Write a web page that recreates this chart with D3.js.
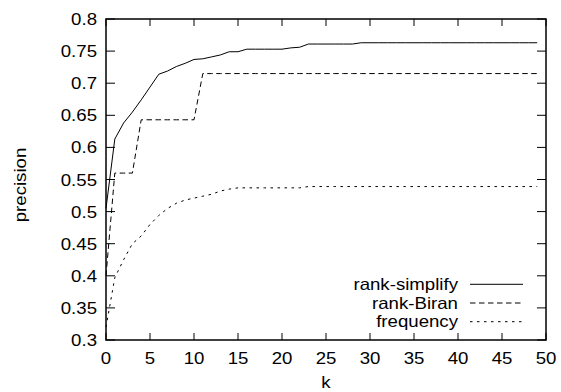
<!DOCTYPE html>
<html>
<head>
<meta charset="utf-8">
<script src="https://cdn.jsdelivr.net/npm/d3@7"></script>
<style>
  body { margin: 0; background: #fff; }
  text { font-family: "Liberation Sans", Arial, sans-serif; font-size: 16.5px; fill: #000; }
</style>
</head>
<body>
<div id="chart"></div>
<script>
// k = 0 .. 49
const kValues = d3.range(0, 50);

const rankSimplify = [
    0.505, 0.613, 0.638, 0.655, 0.674, 0.694, 0.714, 0.719, 0.726, 0.731,
    0.737, 0.738, 0.741, 0.744, 0.749, 0.749, 0.753, 0.753, 0.753, 0.753,
    0.753, 0.755, 0.756, 0.761, 0.761, 0.761, 0.761, 0.761, 0.761, 0.763,
    0.763, 0.763, 0.763, 0.763, 0.763, 0.763, 0.763, 0.763, 0.763, 0.763,
    0.763, 0.763, 0.763, 0.763, 0.763, 0.763, 0.763, 0.763, 0.763, 0.763
];

const rankBiran = [
    0.400, 0.560, 0.560, 0.560, 0.643, 0.643, 0.643, 0.643, 0.643, 0.643,
    0.643, 0.715, 0.715, 0.715, 0.715, 0.715, 0.715, 0.715, 0.715, 0.715,
    0.715, 0.715, 0.715, 0.715, 0.715, 0.715, 0.715, 0.715, 0.715, 0.715,
    0.715, 0.715, 0.715, 0.715, 0.715, 0.715, 0.715, 0.715, 0.715, 0.715,
    0.715, 0.715, 0.715, 0.715, 0.715, 0.715, 0.715, 0.715, 0.715, 0.715
];

const frequency = [
    0.320, 0.397, 0.425, 0.450, 0.462, 0.480, 0.494, 0.505, 0.513, 0.518,
    0.521, 0.524, 0.527, 0.532, 0.535, 0.537, 0.537, 0.537, 0.537, 0.537,
    0.537, 0.537, 0.537, 0.539, 0.539, 0.539, 0.539, 0.539, 0.539, 0.539,
    0.539, 0.539, 0.539, 0.539, 0.539, 0.539, 0.539, 0.539, 0.539, 0.539,
    0.539, 0.539, 0.539, 0.539, 0.539, 0.539, 0.539, 0.539, 0.539, 0.539
];

const seriesNames = ["rank-simplify", "rank-Biran", "frequency"];
const xTicks = d3.range(0, 51, 5);
const yTicks = [0.3, 0.35, 0.4, 0.45, 0.5, 0.55, 0.6, 0.65, 0.7, 0.75, 0.8];

const width = 561;
const height = 392;
const margin = { top: 19, right: 15, bottom: 52, left: 106 };
const sx = 1.13; // the lettering in the picture is a bit wide

const series = [
    { name: seriesNames[0], values: rankSimplify, dash: null },
    { name: seriesNames[1], values: rankBiran, dash: "5.5,3.5" },
    { name: seriesNames[2], values: frequency, dash: "2.5,4.5" }
];

const svg = d3.select("#chart")
    .append("svg")
    .attr("width", width)
    .attr("height", height);

const x = d3.scaleLinear()
    .domain([0, 50])
    .range([margin.left, width - margin.right]);

const y = d3.scaleLinear()
    .domain([0.3, 0.8])
    .range([height - margin.bottom, margin.top]);

function label(px, py, str, anchor) {
    return svg.append("text")
        .attr("transform", "translate(" + px + "," + py + ") scale(" + sx + ",1)")
        .attr("text-anchor", anchor)
        .text(str);
}

// ticks, drawn inward on all four sides
xTicks.forEach(function(t) {
    svg.append("line")
        .attr("x1", x(t)).attr("x2", x(t))
        .attr("y1", y(0.3)).attr("y2", y(0.3) - 7)
        .attr("stroke", "#000").attr("stroke-width", 1);
    svg.append("line")
        .attr("x1", x(t)).attr("x2", x(t))
        .attr("y1", y(0.8)).attr("y2", y(0.8) + 7)
        .attr("stroke", "#000").attr("stroke-width", 1);
    label(x(t), y(0.3) + 24, String(t), "middle");
});

yTicks.forEach(function(t) {
    svg.append("line")
        .attr("x1", x(0)).attr("x2", x(0) + 9)
        .attr("y1", y(t)).attr("y2", y(t))
        .attr("stroke", "#000").attr("stroke-width", 1);
    svg.append("line")
        .attr("x1", x(50)).attr("x2", x(50) - 9)
        .attr("y1", y(t)).attr("y2", y(t))
        .attr("stroke", "#000").attr("stroke-width", 1);
    label(x(0) - 9, y(t) + 6, String(+t.toFixed(2)), "end");
});

// frame
svg.append("rect")
    .attr("x", x(0))
    .attr("y", y(0.8))
    .attr("width", x(50) - x(0))
    .attr("height", y(0.3) - y(0.8))
    .attr("fill", "none")
    .attr("stroke", "#000")
    .attr("stroke-width", 1.5);

// lines
const line = d3.line()
    .x(function(d, i) { return x(kValues[i]); })
    .y(function(d) { return y(d); });

series.forEach(function(s) {
    svg.append("path")
        .datum(s.values)
        .attr("d", line)
        .attr("fill", "none")
        .attr("stroke", "#000")
        .attr("stroke-width", 1)
        .attr("stroke-dasharray", s.dash);
});

// legend
series.forEach(function(s, i) {
    const ly = 284.3 + i * 18.7;
    label(458, ly + 5.5, s.name, "end");
    svg.append("line")
        .attr("x1", 470).attr("x2", 523)
        .attr("y1", ly).attr("y2", ly)
        .attr("stroke", "#000")
        .attr("stroke-width", 1)
        .attr("stroke-dasharray", s.dash);
});

// axis titles
label((x(0) + x(50)) / 2, 388, "k", "middle");

svg.append("text")
    .attr("transform", "translate(26,185) rotate(-90) scale(" + sx + ",1)")
    .attr("text-anchor", "middle")
    .text("precision");
</script>
</body>
</html>
